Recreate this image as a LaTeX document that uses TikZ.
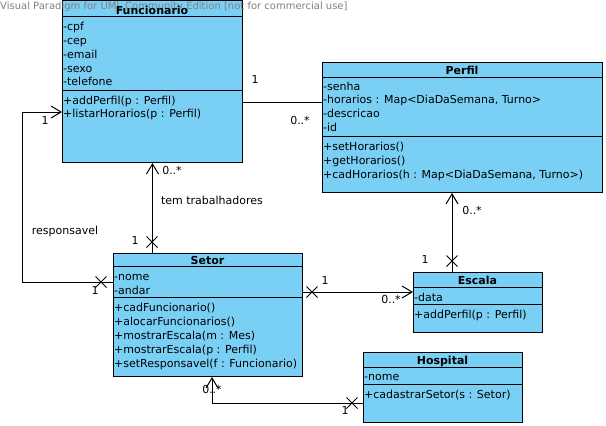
\documentclass[tikz,border=0pt]{standalone}
\usepackage{fontspec}
\setmainfont{DejaVu Sans}
\usetikzlibrary{arrows.meta,shapes.misc}
\definecolor{classfill}{RGB}{122,207,245}
\definecolor{wmgray}{RGB}{128,128,128}
\begin{document}
\begin{tikzpicture}[x=1pt,y=-1pt,
  font=\fontsize{11}{13}\selectfont,
  classbox/.style={draw=black, fill=classfill, line width=1pt, inner sep=0, anchor=north west},
  compart/.style={line width=1pt},
  member/.style={anchor=west, inner sep=0, text height=8pt, text depth=2.5pt, yshift=-2.5pt},
  title/.style={inner sep=0, text height=8pt, text depth=2.5pt, yshift=-2.5pt, font=\fontsize{11}{13}\selectfont\bfseries},
  assoc/.style={line width=1pt},
  navarrow/.style={-{Straight Barb[length=10pt,width=12pt]}},
  xmark/.style={cross out, draw, line width=1pt, minimum size=10pt, inner sep=0},
  mult/.style={inner sep=0, text height=8pt, text depth=2.5pt, yshift=-2.5pt}
]
\useasboundingbox (0,0) rectangle (606,426);

% ---------- class boxes ----------
\node[classbox, minimum width=180, minimum height=162] (fun) at (62,0) {};
\node[classbox, minimum width=280, minimum height=130] (perf) at (322,62) {};
\node[classbox, minimum width=189, minimum height=123] (setor) at (113,253) {};
\node[classbox, minimum width=129, minimum height=60] (esc) at (413,272) {};
\node[classbox, minimum width=159, minimum height=70] (hosp) at (363,352) {};

% compartment separators
\draw[compart] (fun.west |- 0,16) -- (fun.east |- 0,16);
\draw[compart] (fun.west |- 0,90) -- (fun.east |- 0,90);
\draw[compart] (perf.west |- 0,77) -- (perf.east |- 0,77);
\draw[compart] (perf.west |- 0,136) -- (perf.east |- 0,136);
\draw[compart] (setor.west |- 0,266) -- (setor.east |- 0,266);
\draw[compart] (setor.west |- 0,297) -- (setor.east |- 0,297);
\draw[compart] (esc.west |- 0,287) -- (esc.east |- 0,287);
\draw[compart] (esc.west |- 0,304) -- (esc.east |- 0,304);
\draw[compart] (hosp.west |- 0,367) -- (hosp.east |- 0,367);
\draw[compart] (hosp.west |- 0,384) -- (hosp.east |- 0,384);

% watermark line along the top
\node[anchor=west, inner sep=0, text=wmgray, font=\fontsize{10}{12}\selectfont] (wm) at (0,7) {Visual Paradigm for UML Community Edition [not for commercial use]};

% ---------- Funcionario ----------
\node[title] (funT) at (152,9) {Funcionario};
\node[member] (f1) at (63,25) {-cpf};
\node[member] (f2) at (63,39) {-cep};
\node[member] (f3) at (63,53) {-email};
\node[member] (f4) at (63,67) {-sexo};
\node[member] (f5) at (63,80) {-telefone};
\node[member] (f6) at (63,99) {+addPerfil(p : Perfil)};
\node[member] (f7) at (63,112) {+listarHorarios(p : Perfil)};

% ---------- Perfil ----------
\node[title] (perfT) at (462,69) {Perfil};
\node[member] (p1) at (323,85) {-senha};
\node[member] (p2) at (323,98) {-horarios : Map<DiaDaSemana, Turno>};
\node[member] (p3) at (323,112) {-descricao};
\node[member] (p4) at (323,126) {-id};
\node[member] (p5) at (323,145) {+setHorarios()};
\node[member] (p6) at (323,159) {+getHorarios()};
\node[member] (p7) at (323,173) {+cadHorarios(h : Map<DiaDaSemana, Turno>)};

% ---------- Setor ----------
\node[title] (setT) at (207.5,259) {Setor};
\node[member] (s1) at (114,275) {-nome};
\node[member] (s2) at (114,289) {-andar};
\node[member] (s3) at (114,306) {+cadFuncionario()};
\node[member] (s4) at (114,320) {+alocarFuncionarios()};
\node[member] (s5) at (114,334) {+mostrarEscala(m : Mes)};
\node[member] (s6) at (114,348) {+mostrarEscala(p : Perfil)};
\node[member] (s7) at (114,362) {+setResponsavel(f : Funcionario)};

% ---------- Escala ----------
\node[title] (escT) at (477.5,279) {Escala};
\node[member] (e1) at (414,296) {-data};
\node[member] (e2) at (414,313) {+addPerfil(p : Perfil)};

% ---------- Hospital ----------
\node[title] (hosT) at (442.5,359) {Hospital};
\node[member] (h1) at (364,375) {-nome};
\node[member] (h2) at (364,393) {+cadastrarSetor(s : Setor)};

% ---------- association routing points ----------
\coordinate (lvFP) at (0,102);
\coordinate (lvResp) at (0,112);
\coordinate (lvRespS) at (0,282);
\coordinate (cResp) at (22,0);
\coordinate (lvSE) at (0,292);
\coordinate (cEP) at (452,0);
\coordinate (lvHS) at (0,403);
\coordinate (cHS) at (212,0);

% composition-style end markers
\node[xmark] (x1) at (152,242) {};
\node[xmark] (x2) at (101,282) {};
\node[xmark] (x3) at (312,292) {};
\node[xmark] (x4) at (452,261) {};
\node[xmark] (x5) at (352,403) {};

% Funcionario -- Perfil
\draw[assoc] (fun.east |- lvFP) -- (perf.west |- lvFP);
% Setor -> Funcionario (tem trabalhadores)
\draw[assoc, navarrow] (setor.north -| fun.south) -- (fun.south);
% Setor -> Funcionario (responsavel)
\draw[assoc, navarrow] (setor.west |- lvRespS) -- (cResp |- lvRespS) -- (cResp |- lvResp) -- (fun.west |- lvResp);
% Setor -> Escala
\draw[assoc, navarrow] (setor.east |- lvSE) -- (esc.west |- lvSE);
% Escala -> Perfil
\draw[assoc, navarrow] (esc.north -| cEP) -- (perf.south -| cEP);
% Hospital -> Setor
\draw[assoc, navarrow] (hosp.west |- lvHS) -- (cHS |- lvHS) -- (setor.south -| cHS);

% ---------- multiplicities and role names ----------
\node[mult] (m1) at (255,78) {1};
\node[mult] (m2) at (300,119) {0..*};
\node[mult] (m3) at (172,169) {0..*};
\node[mult] (lt) at (212,199) {tem trabalhadores};
\node[mult] (m4) at (135,239) {1};
\node[mult] (lr) at (65,229) {responsavel};
\node[mult] (m5) at (45,119) {1};
\node[mult] (m6) at (95,289) {1};
\node[mult] (m7) at (325,279) {1};
\node[mult] (m8) at (391,298) {0..*};
\node[mult] (m9) at (472,209) {0..*};
\node[mult] (m10) at (425,258) {1};
\node[mult] (m11) at (212,388) {0..*};
\node[mult] (m12) at (345,409) {1};
\end{tikzpicture}
\end{document}
